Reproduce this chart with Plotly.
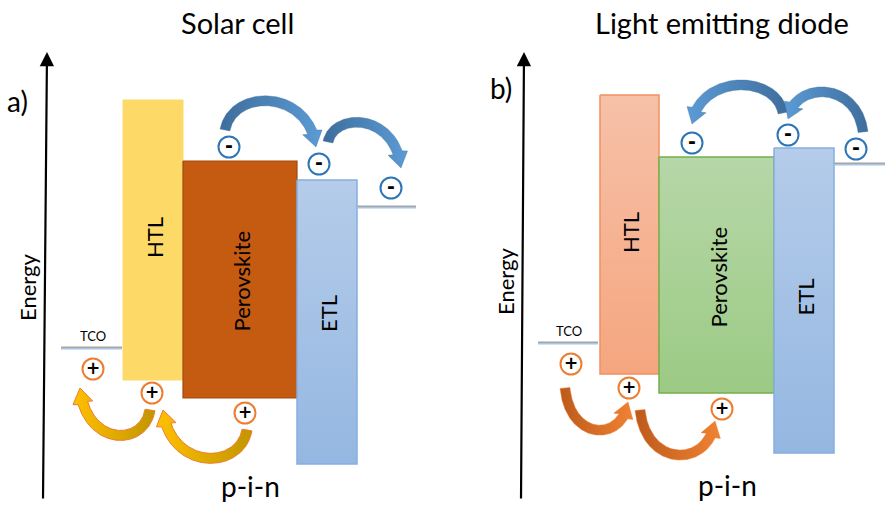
import numpy as np
import plotly.graph_objects as go

# ---------------- data (diagram coordinates, y grows downward) ----------------
layers = ["HTL", "Perovskite", "ETL"]
titles = ["Solar cell", "Light emitting diode"]
panel_tags = ["a)", "b)"]

a_left = [123, 183, 297]
a_right = [183, 297, 357]
a_top = [100, 161, 180]
a_bottom = [380, 398, 464]

b_left = [600, 659, 774]
b_right = [659, 774, 834]
b_top = [95, 157, 148]
b_bottom = [374, 393, 453]

# electrodes: TCO (left) and back contact (right)
a_contact_x0 = [61, 357]
a_contact_x1 = [122, 416]
a_contact_y = [348, 207]
b_contact_x0 = [538, 834]
b_contact_x1 = [598, 885]
b_contact_y = [343, 164]

# charges
a_minus_x = [229, 319, 391]
a_minus_y = [147, 164, 188]
a_plus_x = [93, 152, 245]
a_plus_y = [369, 393, 413]
b_minus_x = [692, 788, 856]
b_minus_y = [143, 135, 149]
b_plus_x = [571, 629, 722]
b_plus_y = [364, 388, 409]

# charge-transfer arrows: (tail x, tail y, head x, head y, arc extreme y)
a_e_arrows = [(225, 130, 316, 147, 101), (328, 142, 401, 168, 123)]
a_h_arrows = [(150, 410, 80, 388, 435), (247, 430, 163, 410, 458)]
b_e_arrows = [(783, 113, 692, 124, 85), (863, 132, 788, 119, 92)]
b_h_arrows = [(565, 388, 628, 402, 430), (640, 410, 715, 421, 455)]

# energy axes: (bottom x, bottom y, top x, top y)
axes_lines = [(43, 500, 47, 52), (521, 500, 524, 52)]

FONT = "Lato"

fig = go.Figure()

# ---------------- bands ----------------
a_styles = [
    dict(fill=("#FDD968", "#FDD968"), line="#FDD968", lw=1),
    dict(fill=("#C55A11", "#C55A11"), line="#A24A0E", lw=1.2),
    dict(fill=("#B5CCEA", "#94B7E1"), line="#86AEE0", lw=1.5),
]
b_styles = [
    dict(fill=("#F6C1A8", "#F5A67F"), line="#F19060", lw=1.5),
    dict(fill=("#B6D7A8", "#9CCA84"), line="#74B04C", lw=1.5),
    dict(fill=("#B5CCEA", "#94B7E1"), line="#86AEE0", lw=1.5),
]


def add_bands(left, right, top, bottom, styles, label_dy):
    for i, name in enumerate(layers):
        l, r, t, b = left[i], right[i], top[i], bottom[i]
        st = styles[i]
        fig.add_trace(go.Scatter(
            x=[l, r, r, l, l], y=[t, t, b, b, t], mode="lines",
            fill="toself", fillcolor=st["fill"][0],
            fillgradient=dict(type="vertical", start=t, stop=b,
                              colorscale=[[0, st["fill"][0]], [1, st["fill"][1]]]),
            line=dict(color=st["line"], width=st["lw"]),
            hoverinfo="skip", showlegend=False))
        fig.add_annotation(x=(l + r) / 2 + 1, y=(t + b) / 2 + label_dy[i], text=name,
                           textangle=-90, showarrow=False,
                           font=dict(family=FONT, size=22, color="black"))


add_bands(a_left, a_right, a_top, a_bottom, a_styles, [-2, 2, -8])
add_bands(b_left, b_right, b_top, b_bottom, b_styles, [-2, 2, -3])

# ---------------- electrodes ----------------
for x0s, x1s, ys in [(a_contact_x0, a_contact_x1, a_contact_y),
                     (b_contact_x0, b_contact_x1, b_contact_y)]:
    for x0, x1, y in zip(x0s, x1s, ys):
        fig.add_trace(go.Scatter(x=[x0, x1], y=[y - 0.8, y - 0.8], mode="lines",
                                 line=dict(color="#A6A6A6", width=1.6),
                                 hoverinfo="skip", showlegend=False))
        fig.add_trace(go.Scatter(x=[x0, x1], y=[y + 0.8, y + 0.8], mode="lines",
                                 line=dict(color="#A9C4E4", width=1.6),
                                 hoverinfo="skip", showlegend=False))
    fig.add_annotation(x=(x0s[0] + x1s[0]) / 2 + 1, y=ys[0] - 12, text="TCO",
                       showarrow=False, font=dict(family=FONT, size=13, color="black"))


# ---------------- curved arrows ----------------
def arrow_polygon(x0, y0, x1, y1, ext, hw=5.0, head_len=15.0, head_hw=10.0):
    c = (ext - 0.125 * (y0 + y1)) / 0.75
    p1x = x0 + 0.08 * (x1 - x0)
    p2x = x1 - 0.08 * (x1 - x0)
    t = np.linspace(0, 1, 600)
    bx = (1 - t) ** 3 * x0 + 3 * (1 - t) ** 2 * t * p1x + 3 * (1 - t) * t ** 2 * p2x + t ** 3 * x1
    by = (1 - t) ** 3 * y0 + 3 * (1 - t) ** 2 * t * c + 3 * (1 - t) * t ** 2 * c + t ** 3 * y1
    d = np.hypot(bx - x1, by - y1)
    idx = np.where(d >= head_len)[0][-1]
    bx, by = bx[: idx + 1], by[: idx + 1]
    dx, dy = np.gradient(bx), np.gradient(by)
    ln = np.hypot(dx, dy)
    nx, ny = -dy / ln, dx / ln
    ux, uy = (x1 - bx[-1]), (y1 - by[-1])
    ul = np.hypot(ux, uy)
    ux, uy = ux / ul, uy / ul
    hnx, hny = -uy, ux
    lx, ly = bx + hw * nx, by + hw * ny
    rx, ry = bx - hw * nx, by - hw * ny
    px = list(lx) + [bx[-1] + head_hw * hnx, x1, bx[-1] - head_hw * hnx] + list(rx[::-1]) + [lx[0]]
    py = list(ly) + [by[-1] + head_hw * hny, y1, by[-1] - head_hw * hny] + list(ry[::-1]) + [ly[0]]
    return px, py


def add_arrows(arrows, tail_col, head_col, outline, ow):
    for (x0, y0, x1, y1, ext) in arrows:
        px, py = arrow_polygon(x0, y0, x1, y1, ext)
        if x1 > x0:
            cs = [[0, tail_col], [1, head_col]]
        else:
            cs = [[0, head_col], [1, tail_col]]
        fig.add_trace(go.Scatter(
            x=px, y=py, mode="lines", fill="toself", fillcolor=head_col,
            fillgradient=dict(type="horizontal", start=min(px), stop=max(px), colorscale=cs),
            line=dict(color=outline, width=ow), hoverinfo="skip", showlegend=False))


add_arrows(a_e_arrows, "#3E6D9C", "#5B9BD5", "rgba(65,113,156,0.6)", 0.6)
add_arrows(b_e_arrows, "#3E6D9C", "#5B9BD5", "rgba(65,113,156,0.6)", 0.6)
add_arrows(a_h_arrows, "#C29500", "#FFC000", "#ED7D31", 1.0)
add_arrows(b_h_arrows, "#BC5A1C", "#F08232", "rgba(237,125,49,0.8)", 0.6)


# ---------------- charges ----------------
def add_charges(xs, ys, sign, color):
    fig.add_trace(go.Scatter(
        x=xs, y=ys, mode="markers", hoverinfo="skip", showlegend=False,
        marker=dict(size=21, color="white", line=dict(color=color, width=2))))
    fig.add_trace(go.Scatter(
        x=xs, y=[v + (0.5 if sign == "+" else 0) for v in ys], mode="text",
        text=["<b>%s</b>" % sign] * len(xs), textposition="middle center",
        textfont=dict(family="DejaVu Sans", size=17 if sign == "+" else 19, color="black"),
        hoverinfo="skip", showlegend=False))


add_charges(a_minus_x, a_minus_y, "-", "#2E75B6")
add_charges(b_minus_x, b_minus_y, "-", "#2E75B6")
add_charges(a_plus_x, a_plus_y, "+", "#ED7D31")
add_charges(b_plus_x, b_plus_y, "+", "#ED7D31")

# ---------------- energy axes & texts ----------------
for (xb, yb, xt, yt) in axes_lines:
    fig.add_annotation(x=xt, y=yt, ax=xb, ay=yb, xref="x", yref="y", axref="x", ayref="y",
                       text="", showarrow=True, arrowhead=2, arrowsize=1.3,
                       arrowwidth=2.2, arrowcolor="black")

fig.add_annotation(x=27, y=288, text="Energy", textangle=-90, showarrow=False,
                   font=dict(family=FONT, size=22, color="black"))
fig.add_annotation(x=505, y=282, text="Energy", textangle=-90, showarrow=False,
                   font=dict(family=FONT, size=22, color="black"))

for x, y, s in [(17, 101, panel_tags[0]), (501, 88, panel_tags[1])]:
    fig.add_annotation(x=x, y=y, text=s, showarrow=False,
                       font=dict(family=FONT, size=28, color="black"))

fig.add_annotation(x=237, y=22, text=titles[0], showarrow=False,
                   font=dict(family=FONT, size=29, color="black"))
fig.add_annotation(x=722, y=22, text=titles[1], showarrow=False,
                   font=dict(family=FONT, size=29, color="black"))
for x, y in [(250, 486), (727, 485)]:
    fig.add_annotation(x=x, y=y, text="p-i-n", showarrow=False,
                       font=dict(family=FONT, size=28, color="black"))

fig.update_layout(
    width=885, height=506, margin=dict(l=0, r=0, t=0, b=0),
    paper_bgcolor="white", plot_bgcolor="white", showlegend=False,
    xaxis=dict(range=[0, 885], visible=False, fixedrange=True),
    yaxis=dict(range=[506, 0], visible=False, fixedrange=True),
)

fig.write_html("out.html", config={"displayModeBar": False},
               post_script="document.body.style.margin='0';")
